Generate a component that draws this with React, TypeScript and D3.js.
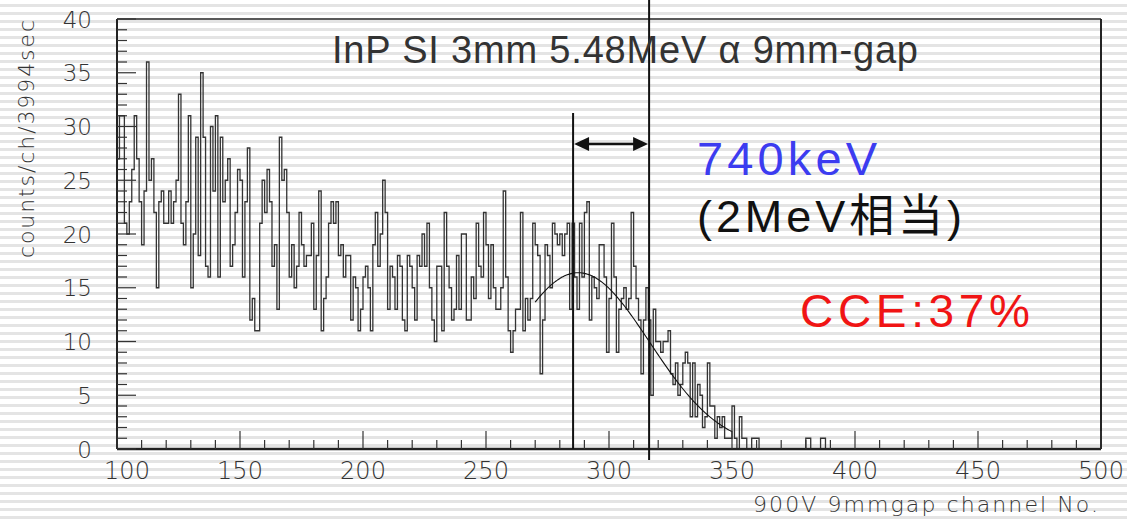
import React from 'react';
import * as d3 from 'd3';

// ---- data ----
const startChannel = 100;
// counts per channel, channels 100..387
const counts: number[] = [
  27, 31, 31, 21, 20, 23, 26, 31, 27, 23, // 100
  19, 24, 36, 25, 27, 22, 15, 23, 24, 21, // 110
  21, 24, 21, 23, 25, 33, 21, 19, 23, 31, // 120
  15, 20, 29, 18, 35, 29, 17, 16, 30, 24, // 130
  31, 16, 29, 23, 25, 27, 17, 19, 22, 26, // 140
  25, 16, 23, 28, 12, 14, 11, 11, 21, 25, // 150
  22, 26, 23, 17, 19, 13, 29, 25, 26, 22, // 160
  16, 19, 15, 17, 22, 19, 17, 18, 18, 21, // 170
  13, 18, 24, 11, 14, 16, 21, 23, 21, 23, // 180
  18, 19, 16, 18, 18, 12, 16, 15, 11, 13, // 190
  16, 17, 15, 11, 19, 22, 17, 20, 25, 22, // 200
  13, 17, 16, 13, 18, 17, 12, 11, 18, 17, // 210
  15, 12, 18, 17, 20, 17, 21, 15, 12, 10, // 220
  17, 17, 11, 22, 17, 15, 12, 13, 18, 13, // 230
  20, 20, 12, 12, 16, 14, 21, 17, 16, 22, // 240
  19, 14, 19, 15, 13, 13, 15, 24, 16, 11, // 250
  9, 11, 13, 13, 22, 11, 14, 12, 14, 21,  // 260
  19, 18, 7, 12, 19, 18, 15, 21, 20, 19,  // 270
  20, 18, 20, 21, 13, 21, 16, 13, 21, 16, // 280
  22, 23, 12, 16, 15, 14, 19, 19, 16, 9,  // 290
  14, 21, 16, 9, 13, 14, 15, 13, 14, 22,  // 300
  17, 14, 12, 7, 12, 15, 12, 5, 13, 10,   // 310
  10, 9, 10, 10, 11, 7, 6, 8, 5, 6,       // 320
  8, 9, 8, 3, 8, 3, 6, 5, 2, 3,           // 330
  8, 4, 4, 1, 3, 2, 3, 1, 1, 1,           // 340
  4, 1, 0, 3, 1, 1, 0, 0, 1, 1,           // 350
  1, 0, 0, 0, 0, 0, 0, 0, 0, 0,           // 360
  0, 0, 0, 0, 0, 0, 0, 0, 0, 0,           // 370
  1, 1, 0, 0, 0, 0, 1, 1,                 // 380
];

const xTickValues = [100, 150, 200, 250, 300, 350, 400, 450, 500];
const yTickValues = [0, 5, 10, 15, 20, 25, 30, 35, 40];

// gaussian fit parameters
const fitAmplitude = 16.4;
const fitMean = 287.5;
const fitSigma = 29;
const fitFrom = 270;
const fitTo = 350;

// marker lines (channel)
const markerLeft = 285.4;
const markerRight = 316.3;

const titleText = 'InP SI 3mm 5.48MeV α 9mm-gap';
const energyText = '740keV';
const equivText = '(2MeV相当)';
const cceText = 'CCE:37%';
const yTitle = 'counts/ch/3994sec';
const xTitle = '900V 9mmgap  channel No.';

const W = 1127;
const H = 523;

export default function App() {
  const x = d3.scaleLinear().domain([100, 500]).range([117, 1101]);
  const y = d3.scaleLinear().domain([0, 40]).range([449, 19]);

  // step outline
  const pts: [number, number][] = [[startChannel, 0]];
  counts.forEach((v, i) => {
    const c = startChannel + i;
    pts.push([c, v]);
    pts.push([c + 1, v]);
  });
  pts.push([startChannel + counts.length, 0]);
  const line = d3.line<[number, number]>().x(d => x(d[0])).y(d => y(d[1]));
  const histPath = line(pts) || '';

  const fitPts: [number, number][] = d3.range(fitFrom, fitTo + 0.01, 0.5).map(c => [
    c,
    fitAmplitude * Math.exp(-((c - fitMean) ** 2) / (2 * fitSigma * fitSigma)),
  ]);
  const fitPath = d3.line<[number, number]>().x(d => x(d[0])).y(d => y(d[1])).curve(d3.curveBasis)(fitPts) || '';

  const xMinor = d3.range(100, 501, 10);
  const yMinor = d3.range(0, 41, 1);

  const stripes = d3.range(0, H, 8);

  const tickFont = { fontFamily: '"DejaVu Sans", sans-serif', fontWeight: 200 as any };

  const xl = x(markerLeft);
  const xr = x(markerRight);
  const ay = 144;

  return (
    <div style={{ position: 'absolute', left: 0, top: 0 }}>
      <svg width={W} height={H} viewBox={`0 0 ${W} ${H}`} style={{ display: 'block' }}>
        <rect x={0} y={0} width={W} height={H} fill="#ffffff" />
        {stripes.map(s => (
          <rect key={s} x={0} y={s + 4} width={W} height={3} fill="#e4e4e4" />
        ))}

        {/* frame */}
        <line x1={x(100)} y1={y(40)} x2={x(500)} y2={y(40)} stroke="#222" strokeWidth={1.5} />
        <line x1={x(500)} y1={y(40)} x2={x(500)} y2={y(0)} stroke="#222" strokeWidth={2} />

        {/* histogram */}
        <path d={histPath} fill="none" stroke="#333" strokeWidth={1.3} />

        {/* fit */}
        <path d={fitPath} fill="none" stroke="#111" strokeWidth={1.1} />

        {/* axes */}
        <line x1={x(100)} y1={y(0)} x2={x(500)} y2={y(0)} stroke="#222" strokeWidth={2.5} />
        <line x1={x(100)} y1={y(0)} x2={x(100)} y2={y(40)} stroke="#222" strokeWidth={2} />
        {xMinor.map(c => (
          <line key={'xm' + c} x1={x(c)} x2={x(c)} y1={y(0)} y2={y(0) - (c % 50 === 0 ? 18 : 9)} stroke="#333" strokeWidth={1.2} />
        ))}
        {yMinor.map(v => (
          <line key={'ym' + v} x1={x(100)} x2={x(100) + (v % 5 === 0 ? 19 : 10)} y1={y(v)} y2={y(v)} stroke="#333" strokeWidth={1.2} />
        ))}

        {/* tick labels */}
        {xTickValues.map(c => (
          <text key={'xl' + c} x={x(c) + (c === 100 ? 10 : 0)} y={479} textAnchor="middle" fontSize={24} fill="#333" {...tickFont}>
            {c}
          </text>
        ))}
        {yTickValues.map(v => (
          <text key={'yl' + v} x={92} y={y(v) + 8.5} textAnchor="end" fontSize={23} fill="#333" {...tickFont}>
            {v}
          </text>
        ))}

        {/* axis titles */}
        <text transform="translate(34,139) rotate(-90)" textAnchor="middle" fontSize={22} fill="#333" textLength={238} lengthAdjust="spacing" {...tickFont}>
          {yTitle}
        </text>
        <text x={1098} y={512} textAnchor="end" fontSize={22} fill="#333" textLength={345} lengthAdjust="spacing" {...tickFont}>
          {xTitle}
        </text>

        {/* markers */}
        <line x1={xl} x2={xl} y1={113} y2={y(0)} stroke="#111" strokeWidth={2} />
        <line x1={xr} x2={xr} y1={0} y2={460} stroke="#111" strokeWidth={2} />
        <line x1={xl + 12} x2={xr - 12} y1={ay} y2={ay} stroke="#111" strokeWidth={2.5} />
        <path d={`M${xl + 1},${ay} L${xl + 16},${ay - 7} L${xl + 16},${ay + 7} Z`} fill="#111" />
        <path d={`M${xr - 1},${ay} L${xr - 16},${ay - 7} L${xr - 16},${ay + 7} Z`} fill="#111" />

        {/* annotations */}
        <text x={332} y={63} fontSize={38} fill="#333" textLength={586} lengthAdjust="spacing" fontFamily='"Liberation Sans", Arial, sans-serif'>
          {titleText}
        </text>
        <text x={697} y={175} fontSize={47} fill="#3c3cf0" textLength={180} lengthAdjust="spacing" fontFamily='"Liberation Sans", Arial, sans-serif'>
          {energyText}
        </text>
        <text x={697} y={232} fontSize={45} fill="#111" textLength={265} lengthAdjust="spacing" fontFamily='"Liberation Sans", "Noto Sans CJK JP", sans-serif'>
          {equivText}
        </text>
        <text x={800} y={327} fontSize={46} fill="#f01414" textLength={230} lengthAdjust="spacing" fontFamily='"Liberation Sans", Arial, sans-serif'>
          {cceText}
        </text>
      </svg>
    </div>
  );
}
